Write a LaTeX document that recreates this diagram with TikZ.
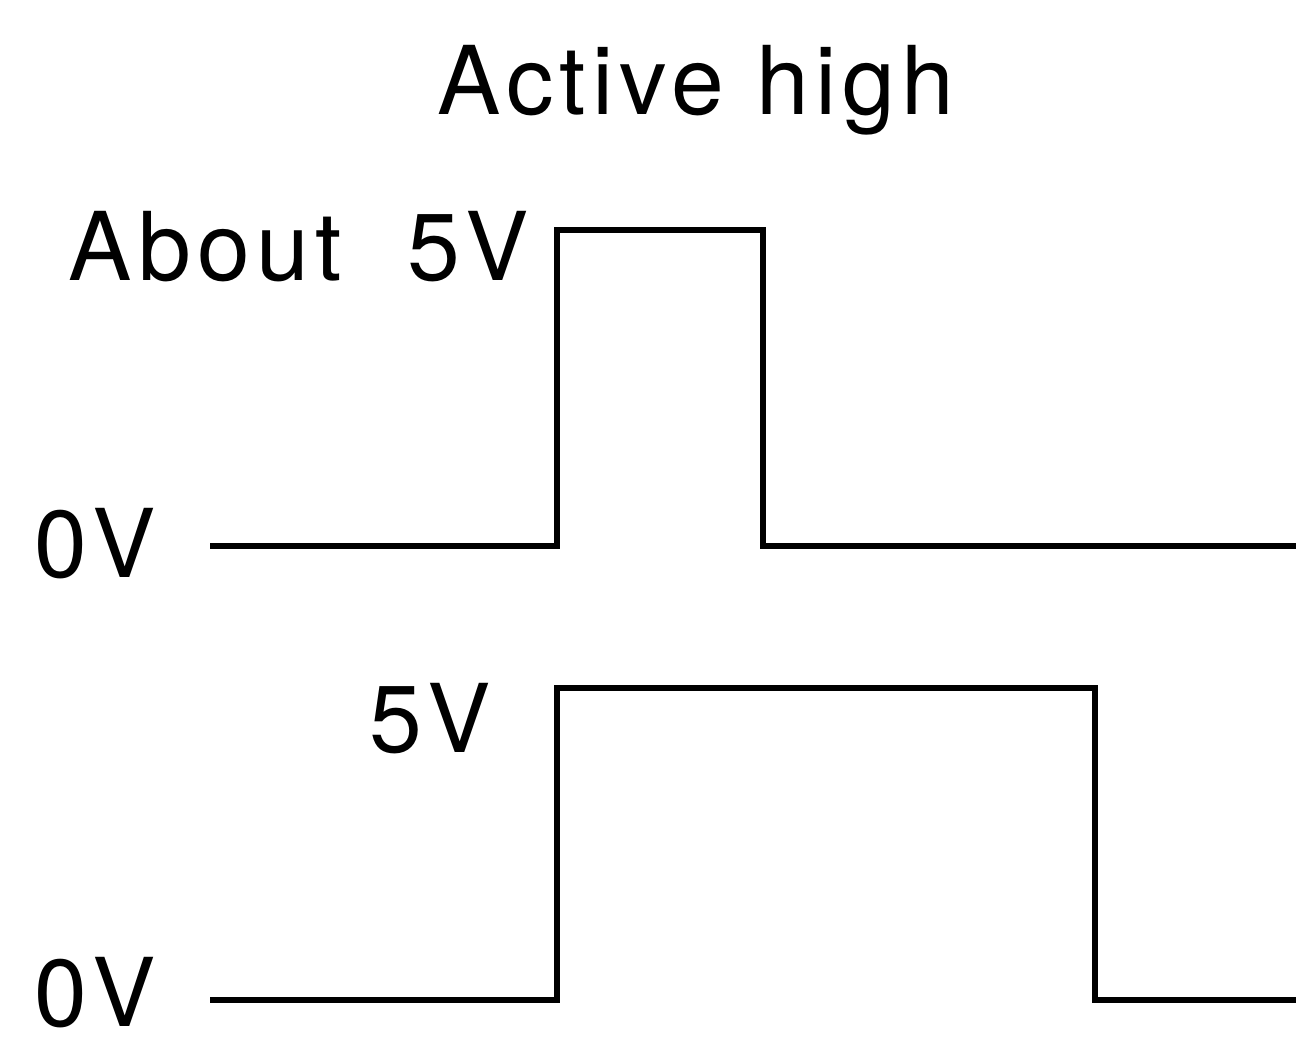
\documentclass[tikz,border=0pt]{standalone}
\usepackage{fontspec}
\setmainfont{TeX Gyre Heros}[LetterSpace=6.5]
\usetikzlibrary{positioning}

\begin{document}
\begin{tikzpicture}[
  x=0.01cm, y=-0.01cm,
  wave/.style={line width=1.9pt, line join=miter},
  lbl/.style={inner sep=0pt, font=\fontsize{27}{32}\selectfont}
]
\useasboundingbox (0,0) rectangle (1296,1040);
% title
\node[lbl] (title) at (696,90) {Active high};
% first waveform
\coordinate (a0) at (210,546);
\coordinate (a1) at (557,546);
\coordinate (a2) at (557,230);
\coordinate (a3) at (763,230);
\coordinate (a4) at (763,546);
\coordinate (a5) at (1296,546);
\draw[wave] (a0) -- (a1) -- (a2) -- (a3) -- (a4) -- (a5);
\node[lbl, anchor=east] (hiA) at (530,247) {About\ \ 5V};
\node[lbl, anchor=east] (loA) at (157,544) {0V};
% second waveform
\coordinate (b0) at (210,1000);
\coordinate (b1) at (557,1000);
\coordinate (b2) at (557,688);
\coordinate (b3) at (1095,688);
\coordinate (b4) at (1095,1000);
\coordinate (b5) at (1296,1000);
\draw[wave] (b0) -- (b1) -- (b2) -- (b3) -- (b4) -- (b5);
\node[lbl, anchor=east] (hiB) at (492,719) {5V};
\node[lbl, anchor=east] (loB) at (157,993) {0V};
\end{tikzpicture}
\end{document}
